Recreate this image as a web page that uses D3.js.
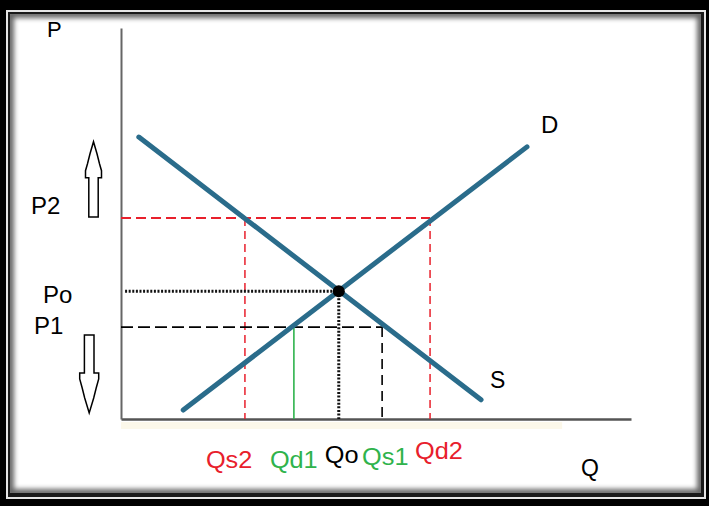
<!DOCTYPE html>
<html>
<head>
<meta charset="utf-8">
<script src="https://cdn.jsdelivr.net/npm/d3@7"></script>
<style>
  html, body { margin: 0; padding: 0; background: #000; overflow: hidden; }
  svg { display: block; }
  text { font-family: "Liberation Sans", Arial, sans-serif; }
</style>
</head>
<body>
<script>
// Quantity markers on the Q axis
const qLabels = ["Qs2", "Qd1", "Qo", "Qs1", "Qd2"];
const qValues = [24.3, 33.9, 42.7, 51.2, 60.6];
// Price markers on the P axis
const pLabels = ["P2", "Po", "P1"];
const pValues = [51.4, 32.7, 23.5];
// Curve end points as [Q, P]
const lineS = [[3.5, 72.1], [70.6, 4.9]];
const lineD = [[12.2, 2.3], [79.6, 69.6]];
const equilibrium = [42.7, 32.7];
const axisNames = ["P", "Q"];
const curveNames = ["S", "D"];

const W = 709, H = 506;
const svg = d3.select("body").append("svg").attr("width", W).attr("height", H);

const x = d3.scaleLinear().domain([0, 100]).range([121, 631]);
const y = d3.scaleLinear().domain([0, 100]).range([419, 28]);

// ---- frame ----
const defs = svg.append("defs");
defs.append("clipPath").attr("id", "inner")
  .append("rect").attr("x", 10).attr("y", 14).attr("width", 691).attr("height", 479);
defs.append("filter").attr("id", "soft").attr("x", "-5%").attr("y", "-5%").attr("width", "110%").attr("height", "110%")
  .append("feGaussianBlur").attr("stdDeviation", 2.5);
defs.append("filter").attr("id", "lineSoft")
  .append("feGaussianBlur").attr("stdDeviation", 0.5);

svg.append("rect").attr("width", W).attr("height", H).attr("fill", "#000");
svg.append("rect").attr("x", 6).attr("y", 10).attr("width", 700).attr("height", 489).attr("fill", "#e6e6e6");
svg.append("rect").attr("x", 8).attr("y", 12).attr("width", 696).attr("height", 485).attr("fill", "#1a1a1a");
svg.append("rect").attr("x", 10).attr("y", 14).attr("width", 691).attr("height", 479).attr("fill", "#fff");
svg.append("g").attr("clip-path", "url(#inner)")
  .append("rect").attr("x", 10).attr("y", 14).attr("width", 691).attr("height", 479)
  .attr("fill", "none").attr("stroke", "#000").attr("stroke-width", 8)
  .attr("stroke-opacity", 0.6).attr("filter", "url(#soft)");

// faint band under the quantity axis
svg.append("rect").attr("x", x(0)).attr("y", y(0) + 3).attr("width", x(86.5) - x(0)).attr("height", 7)
  .attr("fill", "#fcf8ea");

// ---- axes (domain lines only) ----
const xAxis = d3.axisBottom(x).tickValues([]).tickSizeOuter(0);
const yAxis = d3.axisLeft(y).tickValues([]).tickSizeOuter(0);
svg.append("g").attr("transform", `translate(0,${y(0)})`).call(xAxis)
  .select(".domain").attr("stroke", "#555").attr("stroke-width", 2.5);
svg.append("g").attr("transform", `translate(${x(0)},0)`).call(yAxis)
  .select(".domain").attr("stroke", "#666").attr("stroke-width", 2);

const seg = (a, b) => d3.line().x(d => x(d[0])).y(d => y(d[1]))([a, b]);
const guides = svg.append("g").attr("fill", "none");

// P2 level: red dashed, with red dashed drops at Qs2 and Qd2
const red = "#e8202c";
guides.append("path").attr("d", seg([0, pValues[0]], [qValues[4], pValues[0]]))
  .attr("stroke", red).attr("stroke-width", 2).attr("stroke-dasharray", "10,5");
[qValues[0], qValues[4]].forEach(q => {
  guides.append("path").attr("d", seg([q, pValues[0]], [q, 0]))
    .attr("stroke", red).attr("stroke-width", 1.5).attr("stroke-dasharray", "8,5");
});

// P1 level: black dashed, green Qd1 drop, black dashed Qs1 drop
guides.append("path").attr("d", seg([0, pValues[2]], [qValues[3], pValues[2]]))
  .attr("stroke", "#000").attr("stroke-width", 1.6).attr("stroke-dasharray", "12,5");
guides.append("path").attr("d", seg([qValues[1], pValues[2]], [qValues[1], 0]))
  .attr("stroke", "#2fb34c").attr("stroke-width", 1.6);
guides.append("path").attr("d", seg([qValues[3], pValues[2]], [qValues[3], 0]))
  .attr("stroke", "#000").attr("stroke-width", 1.6).attr("stroke-dasharray", "10,6");

// Po level: dotted lines to the equilibrium point
guides.append("path").attr("d", seg([0.8, pValues[1]], [qValues[2], pValues[1]]))
  .attr("stroke", "#111").attr("stroke-width", 3).attr("stroke-dasharray", "2,1.6");
guides.append("path").attr("d", seg([qValues[2], pValues[1]], [qValues[2], 0]))
  .attr("stroke", "#111").attr("stroke-width", 3).attr("stroke-dasharray", "2,1.6");

// ---- curves ----
const curveColor = "#2a6c8b";
[lineS, lineD].forEach(l => {
  svg.append("path").attr("d", seg(l[0], l[1]))
    .attr("stroke", curveColor).attr("stroke-width", 5).attr("stroke-linecap", "round")
    .attr("fill", "none").attr("filter", "url(#lineSoft)");
});
svg.append("circle").attr("cx", x(equilibrium[0])).attr("cy", y(equilibrium[1])).attr("r", 6).attr("fill", "#000");

// ---- price movement arrows ----
function upArrow(cx, base, tip) {
  const p = [[-4.7, base], [-4.7, tip + 36], [-8, tip + 36], [-8, tip + 29], [-6, tip + 22], [-3.5, tip + 12], [0, tip],
             [3.5, tip + 12], [6, tip + 22], [8, tip + 29], [8, tip + 36], [4.7, tip + 36], [4.7, base]];
  return "M" + p.map(d => [cx + d[0], d[1]].join(",")).join("L") + "Z";
}
function downArrow(cx, top, tip) {
  const p = [[-4.8, top], [-4.8, tip - 40], [-9.5, tip - 40], [-9.5, tip - 34], [-7, tip - 25], [-4.5, tip - 15], [0, tip],
             [4.5, tip - 15], [7, tip - 25], [9.5, tip - 34], [9.5, tip - 40], [4.8, tip - 40], [4.8, top]];
  return "M" + p.map(d => [cx + d[0], d[1]].join(",")).join("L") + "Z";
}
svg.append("path").attr("d", upArrow(93.5, y(pValues[0]) - 1, 141.7))
  .attr("fill", "#fff").attr("stroke", "#000").attr("stroke-width", 1.5);
svg.append("path").attr("d", downArrow(89.2, y(pValues[2]) + 8, 413))
  .attr("fill", "#fff").attr("stroke", "#000").attr("stroke-width", 1.5);

// ---- labels ----
function label(txt, tx, ty, color, size, sx) {
  svg.append("g").attr("transform", `translate(${tx},${ty}) scale(${sx},1)`)
    .append("text").text(txt).attr("fill", color).attr("font-size", size);
}
// price labels: left edge x, baseline offset from the level
const pPlace = [[31, -4], [43, 12], [34, 7]];
pLabels.forEach((t, i) => label(t, pPlace[i][0], y(pValues[i]) + pPlace[i][1], "#000", 24, 1));

// quantity labels: offset from the marker position, baseline
const qColors = [red, "#2fb34c", "#000", "#2fb34c", red];
const qPlace = [[-39, 467.5], [-24, 467.5], [-14, 463.3], [-20, 465], [-15, 459.3]];
qLabels.forEach((t, i) => label(t, x(qValues[i]) + qPlace[i][0], qPlace[i][1], qColors[i], 23, 1.1));

label(axisNames[0], 47, 37, "#000", 22, 1);
label(axisNames[1], 581, 476, "#000", 23, 1);
label(curveNames[0], 490, 388, "#000", 23, 1);
label(curveNames[1], 541, 132.5, "#000", 24, 1);
</script>
</body>
</html>
